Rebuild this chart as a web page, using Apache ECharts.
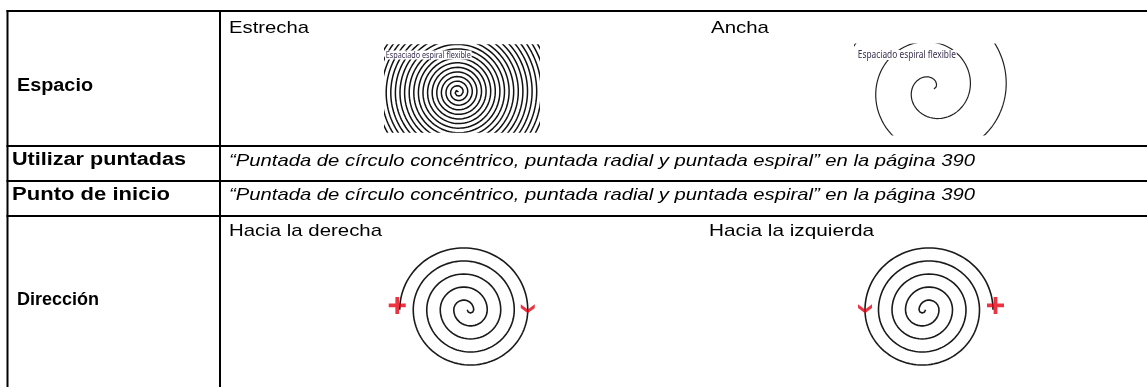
<!DOCTYPE html>
<html><head><meta charset="utf-8">
<script src="https://cdn.jsdelivr.net/npm/echarts/dist/echarts.min.js"></script>
<style>html,body{margin:0;padding:0;background:#fff}#c{width:1147px;height:387px}</style>
</head><body><div id="c"></div>
<script>
// ---- content ----
const rowLabels = ['Espacio', 'Utilizar puntadas', 'Punto de inicio', 'Dirección'];
const spacingCaptions = ['Estrecha', 'Ancha'];
const directionCaptions = ['Hacia la derecha', 'Hacia la izquierda'];
const referenceText = '\u201cPuntada de círculo concéntrico, puntada radial y puntada espiral\u201d en la página 390';
const imageCaption = 'Espaciado espiral flexible';
// spiral geometry
const spacingPitch = [4.6, 36];          // px per turn (narrow, wide)
const spacingStartRadius = [0.5, 2];
const spacingTurns = [22, 2.6];
const directionOuterRadius = [64, 64];   // outer half-turn radius
const directionPitch = [13.5, 13.5];     // px per turn
const directionHalves = [10, 10];        // half-turns drawn
const directionSense = [1, -1];          // 1 = clockwise (derecha), -1 = counter-clockwise (izquierda)

// ---- helpers ----
const ctx = document.createElement('canvas').getContext('2d');
function T(str, x, yMid, size, weight, fstyle, targetW, opts) {
  opts = opts || {};
  const family = opts.family || '"Liberation Sans", Arial, sans-serif';
  const font = (fstyle || 'normal') + ' ' + (weight || 'normal') + ' ' + size + 'px ' + family;
  ctx.font = font;
  const w = ctx.measureText(str).width;
  const st = { text: str, font: font, fill: opts.fill || '#000', align: 'left', verticalAlign: 'middle',
    textAlign: 'left', textVerticalAlign: 'middle' };
  if (opts.bg) { st.backgroundColor = opts.bg; st.padding = [0, 1]; }
  return { type: 'text', x: x, y: yMid, scaleX: targetW ? targetW / w : 1, z: 100, silent: true, style: st };
}
function L(x1, y1, x2, y2) {
  return { type: 'line', z: 50, silent: true, shape: { x1, y1, x2, y2 }, style: { stroke: '#000', lineWidth: 2 } };
}
// outward Archimedean spiral (counter-clockwise, y up)
function outward(pitch, r0, turns, a0) {
  const pts = [], n = Math.ceil(turns * 180);
  for (let i = 0; i <= n; i++) {
    const t = turns * i / n, th = a0 + t * 2 * Math.PI, r = r0 + pitch * t;
    pts.push([r * Math.cos(th), r * Math.sin(th)]);
  }
  return pts;
}
// two-centre (semicircle) spiral drawn inward from the outer start point
function twoCentre(R, pitch, halves, sense) {
  const pts = [];
  for (let k = 0; k < halves; k++) {
    const r = R - k * pitch / 2;
    const cx = (k % 2 === 0) ? 0 : pitch / 2;
    for (let i = (k ? 1 : 0); i <= 60; i++) {
      const th = Math.PI - k * Math.PI - i / 60 * Math.PI;
      pts.push([sense * (cx + r * Math.cos(th)), r * Math.sin(th)]);
    }
  }
  return pts;
}

// ---- layout ----
const grids = [
  { left: 385, top: 45, width: 153, height: 87, x: [-73, 80], y: [-40, 47] },
  { left: 855, top: 44, width: 155, height: 91, x: [-77, 78], y: [-46, 45] },
  { left: 383.75, top: 232.5, width: 160, height: 160, x: [-80, 80], y: [-80, 80] },
  { left: 849, top: 232.5, width: 160, height: 160, x: [-80, 80], y: [-80, 80] }
];
const xAxis = grids.map((g, i) => ({ type: 'value', gridIndex: i, min: g.x[0], max: g.x[1], show: false }));
const yAxis = grids.map((g, i) => ({ type: 'value', gridIndex: i, min: g.y[0], max: g.y[1], show: false }));

const series = [];
series.push({ type: 'line', xAxisIndex: 0, yAxisIndex: 0, data: outward(spacingPitch[0], spacingStartRadius[0], spacingTurns[0], 0),
  showSymbol: false, lineStyle: { color: '#111', width: 1.5 }, silent: true, animation: false });
series.push({ type: 'line', xAxisIndex: 1, yAxisIndex: 1, data: outward(spacingPitch[1], spacingStartRadius[1], spacingTurns[1], 0),
  showSymbol: false, lineStyle: { color: '#222', width: 1.2 }, silent: true, animation: false });
directionSense.forEach((s, k) => {
  const R = directionOuterRadius[k];
  const pts = twoCentre(R, directionPitch[k], directionHalves[k], s);
  series.push({ type: 'line', xAxisIndex: 2 + k, yAxisIndex: 2 + k, data: pts, showSymbol: false,
    lineStyle: { color: '#1a1a1a', width: 1.6 }, silent: true, animation: false });
  const start = pts[0], half = pts[60];
  series.push({ type: 'scatter', xAxisIndex: 2 + k, yAxisIndex: 2 + k, silent: true, animation: false,
    data: [[start[0] - s * 2.5, start[1] + 4.5]],
    symbol: 'path://M3.9,0h2.2v3.9h3.9v2.2h-3.9v3.9h-2.2v-3.9h-3.9v-2.2h3.9z', symbolSize: 17, itemStyle: { color: '#e60012' }, z: 5 });
  series.push({ type: 'scatter', xAxisIndex: 2 + k, yAxisIndex: 2 + k, silent: true, animation: false,
    data: [[half[0], half[1] + 1]],
    symbol: 'path://M0,0L5,4L10,0L10,2.8L5,6.8L0,2.8Z', symbolSize: [14, 9], itemStyle: { color: '#e60012' }, z: 5 });
});

const graphic = [
  L(6.5, 11, 1147, 11), L(6.5, 146, 1147, 146), L(6.5, 181, 1147, 181), L(6.5, 216, 1147, 216),
  L(7.5, 10, 7.5, 387), L(220, 10, 220, 387),
  T(rowLabels[0], 17, 86, 18, 'bold', 'normal', 76),
  T(rowLabels[1], 12, 160.5, 18, 'bold', 'normal', 174),
  T(rowLabels[2], 12, 195, 18, 'bold', 'normal', 158),
  T(rowLabels[3], 17, 300, 18, 'bold', 'normal', 82),
  T(spacingCaptions[0], 229, 28, 17, 'normal', 'normal', 80),
  T(spacingCaptions[1], 711, 28, 17, 'normal', 'normal', 58),
  T(referenceText, 229, 161, 17, 'normal', 'italic', 746),
  T(referenceText, 229, 195.5, 17, 'normal', 'italic', 746),
  T(directionCaptions[0], 229, 231, 17, 'normal', 'normal', 153),
  T(directionCaptions[1], 709, 231, 17, 'normal', 'normal', 165),
  T(imageCaption, 385, 55, 9, 'normal', 'normal', 85, { family: '"Noto Sans", sans-serif', fill: '#3a3050', bg: '#fff' }),
  T(imageCaption, 857, 55, 10, 'normal', 'normal', 98, { family: '"Noto Sans", sans-serif', fill: '#3a3050', bg: '#fff' })
];

const chart = echarts.init(document.getElementById('c'), null, { renderer: 'canvas' });
chart.setOption({
  animation: false,
  backgroundColor: '#fff',
  grid: grids.map(g => ({ left: g.left, top: g.top, width: g.width, height: g.height, containLabel: false })),
  xAxis, yAxis, series, graphic
});
</script></body></html>
